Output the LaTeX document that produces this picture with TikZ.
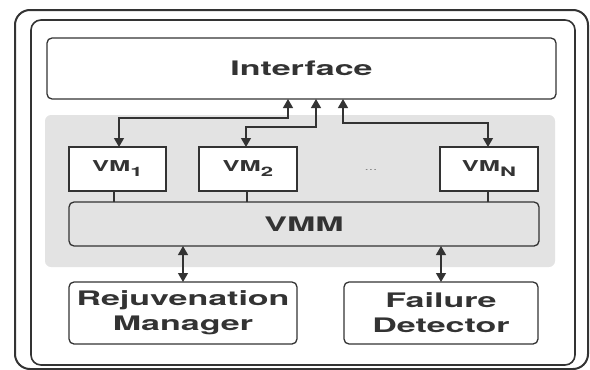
\documentclass[tikz,border=0pt]{standalone}
\usepackage{fontspec}
\setmainfont{TeX Gyre Heros}[FakeStretch=1.7]
\usetikzlibrary{arrows.meta}
\definecolor{ink}{HTML}{333333}
\definecolor{shade}{HTML}{E3E3E3}
\begin{document}
\begin{tikzpicture}[x=1pt,y=-1pt,
  box/.style={draw=ink, line width=1.3pt, fill=white, rounded corners=5pt, inner sep=0pt, outer sep=0pt},
  vmbox/.style={draw=ink, line width=1.3pt, fill=white, inner sep=0pt, outer sep=0pt},
  lbl/.style={font=\fontsize{20}{25}\selectfont\bfseries, text=ink, align=center},
  vmlbl/.style={font=\fontsize{15}{18}\selectfont\bfseries, text=ink},
  conn/.style={draw=ink, line width=1.2pt},
  arr/.style={conn, {Triangle[length=9pt,width=10pt]}-{Triangle[length=9pt,width=10pt]}}]
\useasboundingbox (0,0) rectangle (590,370);
% frames
\draw[ink, line width=2pt, rounded corners=15pt] (15,10) rectangle (588,369);
\draw[ink, line width=1.6pt, rounded corners=10pt] (31,20) rectangle (575,365);
% shaded region
\node[fill=shade, rounded corners=6pt, minimum width=510pt, minimum height=152pt, inner sep=0pt, outer sep=0pt] (virt) at (300,191) {};
% boxes
\node[box, lbl, minimum width=509pt, minimum height=61pt] (iface) at (301.5,68.5) {Interface};
\node[vmbox, vmlbl, minimum width=97pt, minimum height=44pt] (vm1) at (117.5,169) {VM\raisebox{-5pt}{\fontsize{13}{13}\selectfont 1}};
\node[vmbox, vmlbl, minimum width=98pt, minimum height=44pt] (vm2) at (248,169) {VM\raisebox{-5pt}{\fontsize{13}{13}\selectfont 2}};
\node[vmbox, vmlbl, minimum width=98pt, minimum height=44pt] (vmn) at (489,169) {VM\raisebox{-5pt}{\fontsize{13}{13}\selectfont N}};
\node[text=gray, font=\fontsize{9}{9}\selectfont] (dots) at (371,170) {...};
\node[box, lbl, fill=shade, minimum width=470pt, minimum height=44pt] (vmm) at (304,224) {VMM};
\node[box, lbl, minimum width=228pt, minimum height=62pt] (rej) at (183,313) {Rejuvenation\\Manager};
\node[box, lbl, minimum width=194pt, minimum height=62pt] (fail) at (441,313) {Failure\\Detector};
% VM to interface
\draw[arr] ([xshift=1.5pt]vm1.north) -- ++(0,-29) -| ([xshift=-13.5pt]iface.south);
\draw[arr] ([xshift=-2pt]vm2.north) -- ++(0,-20) -| ([xshift=14.5pt]iface.south);
\draw[arr] ([xshift=-1pt]vmn.north) -- ++(0,-24) -| ([xshift=41.5pt]iface.south);
% VM to VMM
\draw[conn] ([xshift=-3.5pt]vm1.south) -- ([xshift=-3.5pt]vm1.south |- vmm.north);
\draw[conn] ([xshift=-1pt]vm2.south) -- ([xshift=-1pt]vm2.south |- vmm.north);
\draw[conn] ([xshift=-1pt]vmn.south) -- ([xshift=-1pt]vmn.south |- vmm.north);
% VMM to lower boxes
\draw[arr] (vmm.south -| rej.north) -- (rej.north);
\draw[arr] (vmm.south -| fail.north) -- (fail.north);
\end{tikzpicture}
\end{document}
